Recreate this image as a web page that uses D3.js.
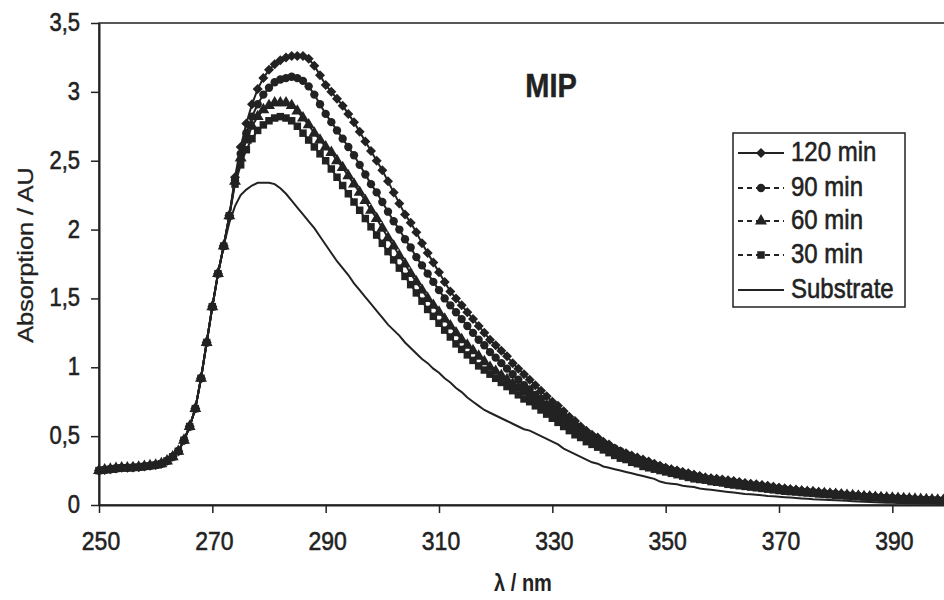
<!DOCTYPE html>
<html>
<head>
<meta charset="utf-8">
<script src="https://cdn.jsdelivr.net/npm/d3@7"></script>
<style>
  html, body { margin: 0; padding: 0; background: #fff; }
  svg { display: block; font-family: Arial, "Liberation Sans", sans-serif; }
</style>
</head>
<body>
<div id="chart"></div>
<script>
// wavelength grid, 1 nm steps
const wavelengths = d3.range(250, 401)

const xTicks = [250, 270, 290, 310, 330, 350, 370, 390]
const yTicks = [0, 0.5, 1, 1.5, 2, 2.5, 3, 3.5]

// values, one row = 10 nm
const min120 = [
  0.25, 0.255, 0.26, 0.265, 0.27, 0.27, 0.272, 0.275, 0.28, 0.285,
  0.29, 0.30, 0.32, 0.35, 0.39, 0.47, 0.57, 0.70, 0.92, 1.18,
  1.44, 1.68, 1.88, 2.10, 2.38, 2.60, 2.77, 2.91, 3.02, 3.10,
  3.16, 3.20, 3.23, 3.25, 3.26, 3.26, 3.26, 3.24, 3.19, 3.12,
  3.05, 3.00, 2.95, 2.90, 2.84, 2.78, 2.71, 2.64, 2.57, 2.50,
  2.43, 2.35, 2.27, 2.19, 2.11, 2.05, 1.98, 1.90, 1.83, 1.76,
  1.69, 1.62, 1.55, 1.50, 1.45, 1.40, 1.35, 1.30, 1.25, 1.20,
  1.16, 1.12, 1.08, 1.03, 0.99, 0.95, 0.91, 0.87, 0.83, 0.79,
  0.75, 0.72, 0.68, 0.64, 0.61, 0.57, 0.54, 0.51, 0.49, 0.46,
  0.44, 0.41, 0.39, 0.375, 0.36, 0.345, 0.33, 0.315, 0.30, 0.285,
  0.27, 0.26, 0.25, 0.24, 0.23, 0.22, 0.21, 0.20, 0.195, 0.19,
  0.185, 0.18, 0.175, 0.167, 0.16, 0.155, 0.15, 0.145, 0.14, 0.132,
  0.125, 0.12, 0.115, 0.11, 0.105, 0.102, 0.10, 0.095, 0.09, 0.087,
  0.085, 0.081, 0.077, 0.073, 0.07, 0.067, 0.065, 0.062, 0.06, 0.057,
  0.055, 0.052, 0.05, 0.048, 0.046, 0.044, 0.042, 0.04, 0.038, 0.036,
  0.035
]

const min90 = [
  0.25, 0.255, 0.26, 0.265, 0.27, 0.27, 0.272, 0.275, 0.28, 0.285,
  0.29, 0.30, 0.32, 0.35, 0.39, 0.47, 0.57, 0.70, 0.92, 1.18,
  1.44, 1.68, 1.88, 2.10, 2.36, 2.55, 2.70, 2.82, 2.91, 2.98,
  3.03, 3.07, 3.09, 3.10, 3.11, 3.10, 3.08, 3.04, 2.98, 2.91,
  2.84, 2.78, 2.72, 2.66, 2.60, 2.54, 2.47, 2.40, 2.33, 2.27,
  2.20, 2.13, 2.06, 2.00, 1.93, 1.87, 1.80, 1.74, 1.68, 1.62,
  1.56, 1.50, 1.45, 1.40, 1.35, 1.30, 1.25, 1.20, 1.16, 1.11,
  1.07, 1.03, 0.99, 0.95, 0.91, 0.87, 0.84, 0.80, 0.77, 0.73,
  0.70, 0.67, 0.64, 0.61, 0.58, 0.55, 0.52, 0.50, 0.47, 0.45,
  0.43, 0.41, 0.39, 0.37, 0.35, 0.335, 0.32, 0.305, 0.29, 0.28,
  0.265, 0.255, 0.245, 0.235, 0.225, 0.215, 0.205, 0.195, 0.19, 0.183,
  0.177, 0.17, 0.165, 0.158, 0.152, 0.147, 0.142, 0.137, 0.132, 0.125,
  0.12, 0.115, 0.11, 0.105, 0.10, 0.097, 0.094, 0.09, 0.086, 0.083,
  0.08, 0.077, 0.073, 0.07, 0.066, 0.063, 0.061, 0.058, 0.055, 0.053,
  0.051, 0.049, 0.047, 0.045, 0.043, 0.041, 0.039, 0.037, 0.036, 0.034,
  0.033
]

const min60 = [
  0.25, 0.255, 0.26, 0.265, 0.27, 0.27, 0.272, 0.275, 0.28, 0.285,
  0.29, 0.30, 0.32, 0.35, 0.39, 0.47, 0.57, 0.70, 0.92, 1.18,
  1.44, 1.68, 1.88, 2.10, 2.35, 2.52, 2.65, 2.75, 2.82, 2.87,
  2.90, 2.92, 2.92, 2.92, 2.90, 2.86, 2.81, 2.76, 2.70, 2.65,
  2.60, 2.56, 2.50, 2.45, 2.39, 2.33, 2.27, 2.21, 2.14, 2.08,
  2.01, 1.94, 1.88, 1.81, 1.75, 1.68, 1.62, 1.56, 1.50, 1.45,
  1.40, 1.35, 1.30, 1.25, 1.20, 1.16, 1.12, 1.08, 1.04, 1.00,
  0.97, 0.94, 0.91, 0.88, 0.85, 0.82, 0.79, 0.76, 0.73, 0.70,
  0.67, 0.64, 0.61, 0.58, 0.55, 0.52, 0.50, 0.47, 0.45, 0.43,
  0.41, 0.39, 0.37, 0.35, 0.33, 0.32, 0.30, 0.29, 0.28, 0.265,
  0.255, 0.245, 0.235, 0.225, 0.215, 0.205, 0.195, 0.188, 0.18, 0.174,
  0.168, 0.16, 0.154, 0.148, 0.143, 0.138, 0.133, 0.128, 0.123, 0.118,
  0.112, 0.107, 0.103, 0.099, 0.095, 0.092, 0.089, 0.085, 0.082, 0.079,
  0.076, 0.073, 0.07, 0.067, 0.064, 0.061, 0.059, 0.056, 0.054, 0.052,
  0.05, 0.048, 0.046, 0.044, 0.042, 0.04, 0.038, 0.037, 0.036, 0.034,
  0.033
]

const min30 = [
  0.25, 0.255, 0.26, 0.265, 0.27, 0.27, 0.272, 0.275, 0.28, 0.285,
  0.29, 0.30, 0.32, 0.35, 0.39, 0.47, 0.57, 0.70, 0.92, 1.18,
  1.44, 1.68, 1.88, 2.10, 2.33, 2.47, 2.58, 2.66, 2.72, 2.76,
  2.79, 2.81, 2.82, 2.81, 2.79, 2.75, 2.70, 2.65, 2.60, 2.55,
  2.50, 2.44, 2.38, 2.32, 2.26, 2.20, 2.14, 2.08, 2.02, 1.96,
  1.90, 1.84, 1.78, 1.72, 1.66, 1.60, 1.54, 1.48, 1.42, 1.37,
  1.32, 1.27, 1.22, 1.17, 1.13, 1.09, 1.05, 1.01, 0.98, 0.95,
  0.92, 0.89, 0.86, 0.83, 0.80, 0.77, 0.75, 0.72, 0.69, 0.66,
  0.63, 0.60, 0.57, 0.54, 0.51, 0.49, 0.46, 0.44, 0.42, 0.40,
  0.38, 0.36, 0.34, 0.33, 0.31, 0.30, 0.28, 0.27, 0.26, 0.25,
  0.24, 0.23, 0.22, 0.21, 0.20, 0.19, 0.185, 0.18, 0.17, 0.165,
  0.16, 0.15, 0.145, 0.14, 0.135, 0.13, 0.125, 0.12, 0.115, 0.11,
  0.105, 0.10, 0.097, 0.094, 0.09, 0.087, 0.084, 0.08, 0.077, 0.074,
  0.07, 0.068, 0.065, 0.062, 0.06, 0.057, 0.055, 0.052, 0.05, 0.048,
  0.046, 0.044, 0.042, 0.04, 0.038, 0.036, 0.035, 0.034, 0.032, 0.031,
  0.03
]

const substrate = [
  0.25, 0.255, 0.26, 0.265, 0.27, 0.27, 0.272, 0.275, 0.28, 0.285,
  0.29, 0.30, 0.32, 0.35, 0.39, 0.47, 0.57, 0.70, 0.92, 1.18,
  1.44, 1.68, 1.88, 2.05, 2.17, 2.25, 2.29, 2.32, 2.34, 2.34,
  2.34, 2.33, 2.30, 2.26, 2.21, 2.16, 2.11, 2.06, 2.01, 1.95,
  1.89, 1.83, 1.77, 1.72, 1.67, 1.61, 1.56, 1.51, 1.46, 1.41,
  1.36, 1.31, 1.27, 1.23, 1.18, 1.14, 1.10, 1.06, 1.03, 0.99,
  0.96, 0.92, 0.89, 0.85, 0.82, 0.78, 0.75, 0.72, 0.69, 0.67,
  0.65, 0.63, 0.61, 0.59, 0.57, 0.55, 0.54, 0.52, 0.50, 0.48,
  0.46, 0.44, 0.41, 0.39, 0.37, 0.35, 0.33, 0.31, 0.30, 0.28,
  0.27, 0.26, 0.25, 0.24, 0.23, 0.22, 0.21, 0.20, 0.19, 0.17,
  0.16, 0.155, 0.15, 0.14, 0.135, 0.13, 0.12, 0.115, 0.11, 0.105,
  0.10, 0.095, 0.09, 0.085, 0.08, 0.078, 0.075, 0.07, 0.066, 0.063,
  0.06, 0.057, 0.054, 0.051, 0.048, 0.045, 0.042, 0.04, 0.038, 0.036,
  0.034, 0.032, 0.03, 0.028, 0.026, 0.024, 0.022, 0.02, 0.018, 0.017,
  0.016, 0.015, 0.014, 0.013, 0.012, 0.011, 0.011, 0.010, 0.010, 0.010,
  0.010
]

const seriesNames = ['120 min', '90 min', '60 min', '30 min', 'Substrate']
const seriesValues = [min120, min90, min60, min30, substrate]
const seriesMarkers = ['diamond', 'circle', 'triangle', 'square', null]

const width = 944
const height = 600
const ink = '#222'
const stretch = 1.15 // the scan is a bit taller than wide

const svg = d3.select('#chart')
  .append('svg')
  .attr('width', width)
  .attr('height', height)

svg.append('rect').attr('width', width).attr('height', height).attr('fill', '#fff')

const x = d3.scaleLinear().domain([250, 400]).range([99, 949])
const y = d3.scaleLinear().domain([0, 3.5]).range([505, 23])

const comma = d3.formatLocale({ decimal: ',', thousands: '.', grouping: [3], currency: ['', ''] }).format('~g')

// text helper: stretched a bit like the scanned original
function label(g, tx, ty, str, opts = {}) {
  return g.append('text')
    .attr('transform', `translate(${tx},${ty}) scale(1,${opts.sy || stretch})${opts.rotate ? ' rotate(-90)' : ''}`)
    .attr('text-anchor', opts.anchor || 'middle')
    .attr('font-size', opts.size || 22)
    .attr('font-weight', opts.weight || 'normal')
    .attr('fill', ink)
    .attr('stroke', ink)
    .attr('stroke-width', opts.stroke == null ? 0.5 : opts.stroke)
    .text(str)
}

// plot frame
svg.append('rect')
  .attr('x', x(250))
  .attr('y', y(3.5))
  .attr('width', x(400) - x(250))
  .attr('height', y(0) - y(3.5))
  .attr('fill', 'none')
  .attr('stroke', ink)
  .attr('stroke-width', 1.5)

// axes
const xAxis = svg.append('g')
  .attr('transform', `translate(0,${y(0)})`)
  .call(d3.axisBottom(x).tickValues(xTicks).tickSize(8).tickSizeOuter(0).tickFormat(''))
const yAxis = svg.append('g')
  .attr('transform', `translate(${x(250)},0)`)
  .call(d3.axisLeft(y).tickValues(yTicks).tickSize(8).tickSizeOuter(0).tickFormat(''))

;[xAxis, yAxis].forEach(a => {
  a.select('.domain').attr('stroke', ink).attr('stroke-width', 2)
  a.selectAll('.tick line').attr('stroke', ink).attr('stroke-width', 1.5)
})

xTicks.forEach(v => label(svg, x(v) + 2, 550, v, { size: 23 }))
yTicks.forEach(v => label(svg, 80, y(v) + 8, comma(v), { size: 22, anchor: 'end' }))

label(svg, 523, 591, 'λ / nm', { size: 20, weight: 'bold', stroke: 0 })
label(svg, 33, 255, 'Absorption / AU', { size: 22, rotate: true, stroke: 0.3 })
label(svg, 551, 97, 'MIP', { size: 29, weight: 'bold', stroke: 0.4 })

// markers
function markerPath(kind) {
  if (kind === 'diamond') return d3.symbol().type(d3.symbolSquare).size(50)()
  if (kind === 'circle') return d3.symbol().type(d3.symbolCircle).size(55)()
  if (kind === 'triangle') return d3.symbol().type(d3.symbolTriangle).size(62)()
  if (kind === 'square') return d3.symbol().type(d3.symbolSquare).size(56)()
  return null
}

const line = d3.line()
  .x(d => x(d[0]))
  .y(d => y(d[1]))

svg.append('clipPath').attr('id', 'plot-clip')
  .append('rect')
  .attr('x', x(250) - 6).attr('y', y(3.5))
  .attr('width', x(400) - x(250) + 12).attr('height', y(0) - y(3.5) + 2)

const plot = svg.append('g').attr('clip-path', 'url(#plot-clip)')

seriesValues.forEach((vals, i) => {
  const pts = wavelengths.map((w, k) => [w, vals[k]])
  const g = plot.append('g').attr('class', 'series')
  g.append('path')
    .datum(pts)
    .attr('d', line)
    .attr('fill', 'none')
    .attr('stroke', ink)
    .attr('stroke-width', 2)

  const kind = seriesMarkers[i]
  if (kind) {
    const p = markerPath(kind)
    g.selectAll('path.mark')
      .data(pts)
      .join('path')
      .attr('class', 'mark')
      .attr('d', p)
      .attr('fill', ink)
      .attr('transform', d => `translate(${x(d[0])},${y(d[1])})${kind === 'diamond' ? ' rotate(45)' : ''}`)
  }
})

// legend
const legend = svg.append('g')
legend.append('rect')
  .attr('x', 733).attr('y', 133)
  .attr('width', 172).attr('height', 174)
  .attr('fill', '#fff')
  .attr('stroke', ink)
  .attr('stroke-width', 1.5)

const legendY = [153, 188, 221, 255, 290]
seriesNames.forEach((name, i) => {
  const ly = legendY[i]
  legend.append('line')
    .attr('x1', 738).attr('x2', 784)
    .attr('y1', ly).attr('y2', ly)
    .attr('stroke', ink)
    .attr('stroke-width', 2)
    .attr('stroke-dasharray', (i === 0 || i === 4) ? null : '5,4')
  const kind = seriesMarkers[i]
  if (kind) {
    legend.append('path')
      .attr('d', markerPath(kind))
      .attr('fill', ink)
      .attr('transform', `translate(761,${ly})${kind === 'diamond' ? ' rotate(45)' : ''}`)
  }
  label(legend, 791, ly + 8, name, { size: 24, anchor: 'start', stroke: 0.5 })
})
</script>
</body>
</html>
